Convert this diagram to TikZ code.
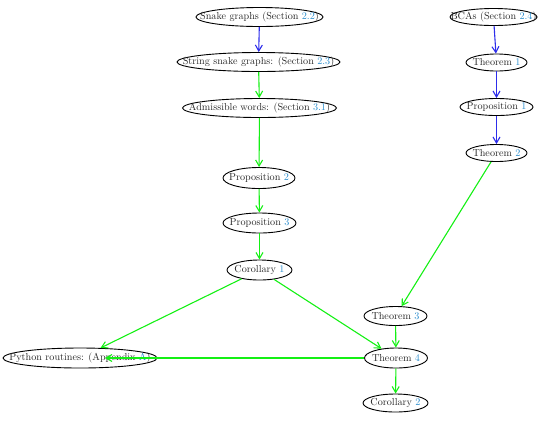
\documentclass[tikz,border=0pt]{standalone}
\usetikzlibrary{shapes.geometric,arrows.meta}
\definecolor{refblue}{RGB}{45,45,235}
\definecolor{refgreen}{RGB}{20,240,20}
\definecolor{numblue}{RGB}{40,140,205}
\definecolor{txt}{RGB}{40,40,40}
\newcommand{\rf}[1]{\textcolor{numblue}{#1}}
\tikzset{
  nd/.style={ellipse, draw, line width=0.9bp, inner sep=0pt, minimum height=19bp,
    label={[font=\fontsize{10.2}{12}\selectfont, text=txt]center:#1}},
  bl/.style={draw=refblue, line width=1.1bp, -{Straight Barb[length=6bp,width=7bp]}},
  gr/.style={draw=refgreen, line width=1.1bp, -{Straight Barb[length=6bp,width=7bp]}},
}
\begin{document}
\begin{tikzpicture}[x=1bp,y=-1bp]
\useasboundingbox (0,0) rectangle (550,420);
\node[nd={Snake graphs (Section \rf{2.2})}, minimum width=127bp] (snake) at (259.5,17) {};
\node[nd={String snake graphs: (Section \rf{2.3})}, minimum width=163bp] (string) at (258.5,62) {};
\node[nd={Admissible words: (Section \rf{3.1})}, minimum width=154bp] (adm) at (259.5,108) {};
\node[nd={Proposition \rf{2}}, minimum width=72bp, minimum height=21bp] (p2) at (259,178) {};
\node[nd={Proposition \rf{3}}, minimum width=73bp, minimum height=20bp] (p3) at (259.5,223) {};
\node[nd={Corollary \rf{1}}, minimum width=65bp, minimum height=20bp] (c1) at (259.5,270) {};
\node[nd={BCAs (Section \rf{2.4})}, minimum width=87bp, minimum height=17bp] (bca) at (493.5,17) {};
\node[nd={Theorem \rf{1}}, minimum width=61bp, minimum height=17bp] (t1) at (496.5,62.5) {};
\node[nd={Proposition \rf{1}}, minimum width=73bp, minimum height=17bp] (p1) at (496.5,107) {};
\node[nd={Theorem \rf{2}}, minimum width=61bp, minimum height=17bp] (t2) at (496.5,153) {};
\node[nd={Theorem \rf{3}}, minimum width=63bp] (t3) at (395.5,316) {};
\node[nd={Theorem \rf{4}}, minimum width=63bp, minimum height=20bp] (t4) at (396,358) {};
\node[nd={Corollary \rf{2}}, minimum width=65bp, minimum height=18bp] (c2) at (395.5,403) {};
\node[nd={Python routines: (Appendix \rf{A})}, minimum width=154bp, minimum height=20bp] (py) at (80,358) {};
\coordinate (pyin) at (105,358);
\draw[bl] (snake) -- (string);
\draw[gr] (string) -- (adm);
\draw[gr] (adm) -- (p2);
\draw[gr] (p2) -- (p3);
\draw[gr] (p3) -- (c1);
\draw[gr] (c1) -- (py);
\draw[gr] (c1) -- (t4);
\draw[bl] (bca) -- (t1);
\draw[bl] (t1) -- (p1);
\draw[bl] (p1) -- (t2);
\draw[gr] (t2) -- (t3);
\draw[gr] (t3) -- (t4);
\draw[gr] (t4) -- (c2);
\draw[gr] (t4.west) -- (pyin);
\end{tikzpicture}
\end{document}
